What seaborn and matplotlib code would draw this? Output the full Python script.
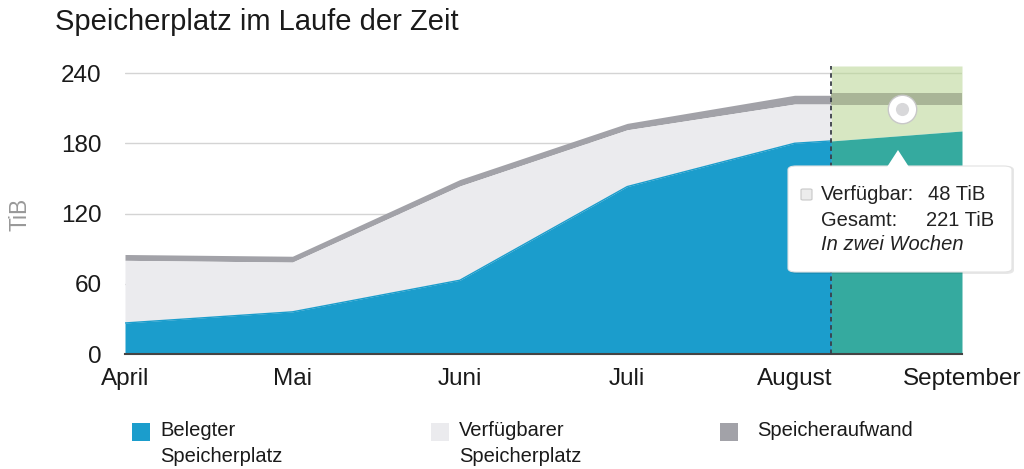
import numpy as np
import matplotlib
matplotlib.use("Agg")
import matplotlib.pyplot as plt
import matplotlib.patches as mpatches
import seaborn as sns
import pandas as pd

# ── Données ────────────────────────────────────────────────────────────────
months = ["April", "Mai", "Juni", "Juli", "August", "September"]
today_pos = 4.22          # "heute" (ligne pointillée)

hist_pos = [0, 1, 2, 3, 4, today_pos]
used_hist = [26.5, 36, 63, 143, 180, 182]        # Belegter Speicherplatz
avail_hist = [80, 78.5, 143.5, 191.5, 213.5, 213.5]  # + Verfügbarer Speicherplatz
total_hist = [85, 83.5, 149, 197, 221, 221]      # + Speicheraufwand

fc_pos = [today_pos, 5]
used_fc = [182, 190.5]
avail_fc = [213, 213]
total_fc = [223, 223]

dot_pos, dot_val = 4.64, 209

tip_label = "Verfügbar:"
tip_avail = "48 TiB"
tip_total_label = "Gesamt:"
tip_total = "221 TiB"
tip_when = "In zwei Wochen"

# Couleurs
c_used = "#1b9dcc"
c_avail = "#ebebee"
c_over = "#a2a2a8"
c_used_fc = "#35aa9f"
c_avail_fc = "#d7e7c2"
c_over_fc = "#a9b597"

sns.set_theme(style="white")
plt.rcParams["font.family"] = ["Liberation Sans", "DejaVu Sans"]

W, H = 1024, 469
fig = plt.figure(figsize=(W / 100, H / 100), dpi=100)
ax = fig.add_axes([125 / W, 1 - 354 / H, (962 - 125) / W, (354 - 66) / H])

# grille
for v in [60, 120, 180, 240]:
    ax.axhline(v, color="#d4d4d4", lw=1, zorder=0)

# historique
ax.fill_between(hist_pos, avail_hist, total_hist, color=c_over, lw=0, zorder=1)
ax.fill_between(hist_pos, used_hist, avail_hist, color=c_avail, lw=0, zorder=1)
ax.fill_between(hist_pos, 0, used_hist, color=c_used, lw=0, zorder=1)
df = pd.DataFrame({"pos": hist_pos, "used": used_hist})
sns.lineplot(data=df, x="pos", y="used", color=c_used, lw=1, ax=ax, zorder=2)

# prévision
ax.fill_between(fc_pos, used_fc, 246, color=c_avail_fc, lw=0, zorder=1)
ax.fill_between(fc_pos, avail_fc, total_fc, color=c_over_fc, lw=0, zorder=1)
ax.fill_between(fc_pos, 0, used_fc, color=c_used_fc, lw=0, zorder=1)
ax.axhline(240, xmin=(today_pos) / 5, color="#c4d6ae", lw=1, zorder=1.5)

ax.axvline(today_pos, color="#3a3f48", lw=1.3, ls=(0, (2.5, 2)), zorder=3)

# point
ax.scatter([dot_pos], [dot_val], s=420, color="white", edgecolor="#c8c8c8",
           lw=1, zorder=5)
ax.scatter([dot_pos], [dot_val], s=90, color="#d8d8da", lw=0, zorder=6)

ax.set_xlim(0, 5)
ax.set_ylim(0, 246)
ax.set_xticks(range(len(months)))
ax.set_xticklabels(months)
ax.set_yticks([0, 60, 120, 180, 240])
ax.tick_params(axis="x", length=0, pad=10, labelsize=17.5, colors="#1a1a1a")
ax.tick_params(axis="y", length=0, pad=17, labelsize=17.5, colors="#1a1a1a")
for s in ["top", "right", "left"]:
    ax.spines[s].set_visible(False)
ax.spines["bottom"].set_color("#444444")
ax.spines["bottom"].set_linewidth(1.5)
ax.set_xlabel("")
ax.set_ylabel("")

fig.text(20 / W, 1 - 214 / H, "TiB", rotation=90, ha="center", va="center",
         fontsize=16.5, color="#999999")
fig.text(55 / W, 1 - 22 / H, "Speicherplatz im Laufe der Zeit", ha="left",
         va="center", fontsize=21, color="#1a1a1a")

# infobulle
def fx(px):
    return px / W

def fy(py):
    return 1 - py / H

shadow = mpatches.FancyBboxPatch((fx(790), fy(274)), fx(224), 108 / H,
                                 boxstyle="round,pad=0,rounding_size=0.008",
                                 transform=fig.transFigure, fc="#00000018",
                                 ec="none", zorder=9)
fig.add_artist(shadow)
box = mpatches.FancyBboxPatch((fx(788), fy(272)), fx(224), 106 / H,
                              boxstyle="round,pad=0,rounding_size=0.008",
                              transform=fig.transFigure, fc="white",
                              ec="#e2e2e2", lw=0.8, zorder=10)
fig.add_artist(box)
tri = mpatches.Polygon([(fx(887), fy(167)), (fx(909), fy(167)), (fx(898), fy(150))],
                       closed=True, transform=fig.transFigure, fc="white",
                       ec="none", zorder=11)
fig.add_artist(tri)
chk = mpatches.FancyBboxPatch((fx(801), fy(200)), fx(11), 11 / H,
                              boxstyle="round,pad=0,rounding_size=0.002",
                              transform=fig.transFigure, fc="#ececec",
                              ec="#c8c8c8", lw=0.8, zorder=12)
fig.add_artist(chk)
tfs = 14.5
fig.text(fx(821), fy(194), tip_label, fontsize=tfs, va="center", color="#222222", zorder=12)
fig.text(fx(928), fy(194), tip_avail, fontsize=tfs, va="center", color="#222222", zorder=12)
fig.text(fx(821), fy(220), tip_total_label, fontsize=tfs, va="center", color="#222222", zorder=12)
fig.text(fx(926), fy(220), tip_total, fontsize=tfs, va="center", color="#222222", zorder=12)
fig.text(fx(821), fy(244), tip_when, fontsize=tfs, va="center", style="italic",
         color="#222222", zorder=12)

# légende
legend_items = [
    (c_used, "Belegter\nSpeicherplatz", 132, 160),
    (c_avail, "Verfügbarer\nSpeicherplatz", 431, 459),
    (c_over, "Speicheraufwand", 720, 757),
]
for col, lab, sx, tx in legend_items:
    fig.add_artist(mpatches.Rectangle((fx(sx), fy(441)), fx(18), 18 / H,
                                      transform=fig.transFigure, fc=col, ec="none"))
    fig.text(fx(tx), fy(421), lab, fontsize=14.5, va="top", ha="left",
             color="#1a1a1a", linespacing=1.45)

fig.savefig("out.png", dpi=100)
